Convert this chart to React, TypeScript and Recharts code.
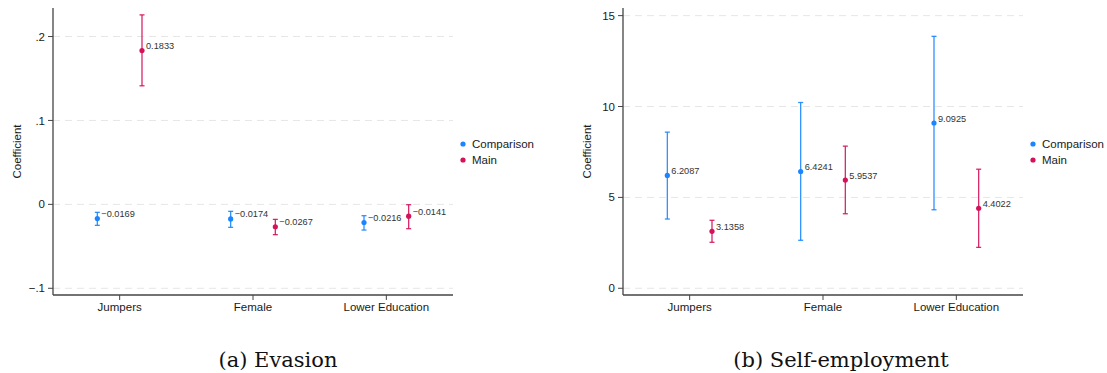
import React from 'react';
import {
  ScatterChart,
  Scatter,
  XAxis,
  YAxis,
  CartesianGrid,
  ErrorBar,
  Legend,
  Label,
} from 'recharts';

// ---- data -------------------------------------------------------------
const categories = ['Jumpers', 'Female', 'Lower Education'];
const seriesNames = ['Comparison', 'Main'];

// (a) Evasion
const evasionComparison = [-0.0169, -0.0174, -0.0216];
const evasionComparisonLow = [-0.025, -0.0274, -0.0306];
const evasionComparisonHigh = [-0.0095, -0.0083, -0.0135];
const evasionMain = [0.1833, -0.0267, -0.0141];
const evasionMainLow = [0.1413, -0.0361, -0.029];
const evasionMainHigh = [0.2258, -0.0179, -0.0004];
const evasionTicks = [-0.1, 0, 0.1, 0.2];

// (b) Self-employment
const selfEmpComparison = [6.2087, 6.4241, 9.0925];
const selfEmpComparisonLow = [3.81, 2.64, 4.32];
const selfEmpComparisonHigh = [8.59, 10.22, 13.86];
const selfEmpMain = [3.1358, 5.9537, 4.4022];
const selfEmpMainLow = [2.53, 4.1, 2.25];
const selfEmpMainHigh = [3.74, 7.82, 6.55];
const selfEmpTicks = [0, 5, 10, 15];

// ---- style ------------------------------------------------------------
const BLUE = '#1a85ff';
const RED = '#d41159';
const SANS = '"Liberation Sans", Arial, Helvetica, sans-serif';
const SERIF = '"DejaVu Serif", "Liberation Serif", serif';
const AXIS = '#444';
const DODGE = 0.1675; // horizontal offset of each series inside its category

const formatValue = (v: number) => (v < 0 ? '\u2212' : '') + Math.abs(v).toFixed(4);
const formatEvasionTick = (v: number) => {
  if (v === 0) return '0';
  const s = Math.abs(v).toFixed(1).replace(/^0/, '');
  return (v < 0 ? '\u2212' : '') + s;
};

type Row = { x: number; y: number; err: [number, number]; label: string };

const buildRows = (vals: number[], low: number[], high: number[], dodge: number): Row[] =>
  vals.map((v, i) => ({
    x: i + 0.5 + dodge,
    y: v,
    err: [v - low[i], high[i] - v],
    label: formatValue(v),
  }));

const makePoint = (color: string) => (props: any) => {
  const { cx, cy, payload } = props;
  if (cx == null || cy == null) return <g />;
  return (
    <g>
      <circle cx={cx} cy={cy} r={2.6} fill={color} />
      <text x={cx + 4} y={cy - 1.5} fontSize={9.2} fill="#333" fontFamily={SANS}>
        {payload.label}
      </text>
    </g>
  );
};

const LegendBox = () => (
  <div style={{ fontFamily: SANS, fontSize: 11.5, color: '#1a1a1a', lineHeight: '16px' }}>
    {seriesNames.map((name, i) => (
      <div key={name} style={{ display: 'flex', alignItems: 'center', height: 16, whiteSpace: 'nowrap' }}>
        <svg width={9} height={16} style={{ marginRight: 5 }}>
          <circle cx={5} cy={8} r={2.6} fill={i === 0 ? BLUE : RED} />
        </svg>
        <span>{name}</span>
      </div>
    ))}
  </div>
);

type PanelProps = {
  comparison: Row[];
  main: Row[];
  domain: [number, number];
  ticks: number[];
  tickFormatter: (v: number) => string;
  width: number;
  marginRight: number;
};

const CHART_H = 330;

const Panel = ({ comparison, main, domain, ticks, tickFormatter, width, marginRight }: PanelProps) => (
  <ScatterChart
    width={width}
    height={CHART_H}
    margin={{ top: 8, right: marginRight, bottom: 0, left: 0 }}
  >
    <CartesianGrid
      vertical={false}
      syncWithTicks
      stroke="#e6e6e6"
      strokeDasharray="7 5"
    />
    <XAxis
      type="number"
      dataKey="x"
      domain={[0, categories.length]}
      ticks={categories.map((_, i) => i + 0.5)}
      tickFormatter={(v: number) => categories[Math.floor(v)]}
      interval={0}
      height={35}
      tickSize={5}
      tickMargin={3}
      axisLine={{ stroke: AXIS, strokeWidth: 1.3 }}
      tickLine={{ stroke: AXIS }}
      tick={{ fill: '#1a1a1a', fontSize: 11.5, fontFamily: SANS }}
    />
    <YAxis
      type="number"
      dataKey="y"
      domain={domain}
      ticks={ticks}
      tickFormatter={tickFormatter}
      allowDataOverflow
      width={53}
      tickSize={5}
      tickMargin={3}
      axisLine={{ stroke: AXIS, strokeWidth: 1.3 }}
      tickLine={{ stroke: AXIS }}
      tick={{ fill: '#1a1a1a', fontSize: 11.5, fontFamily: SANS }}
    >
      <Label
        content={(p: any) => {
          const vb = p.viewBox || { y: 8, height: 287 };
          const cy = vb.y + vb.height / 2;
          return (
            <text
              x={16.5}
              y={cy}
              transform={`rotate(-90, 16.5, ${cy})`}
              textAnchor="middle"
              dominantBaseline="central"
              fontSize={11.5}
              fontFamily={SANS}
              fill="#1a1a1a"
            >
              Coefficient
            </text>
          );
        }}
      />
    </YAxis>
    <Legend
      layout="vertical"
      align="center"
      verticalAlign="middle"
      wrapperStyle={{ left: width - marginRight + 5, top: 136, width: 90, height: 34 }}
      content={() => <LegendBox />}
    />
    <Scatter
      name={seriesNames[0]}
      data={comparison}
      fill={BLUE}
      shape={makePoint(BLUE)}
      isAnimationActive={false}
    >
      <ErrorBar dataKey="err" direction="y" width={2.5} stroke={BLUE} strokeWidth={1.3} strokeOpacity={0.9} />
    </Scatter>
    <Scatter
      name={seriesNames[1]}
      data={main}
      fill={RED}
      shape={makePoint(RED)}
      isAnimationActive={false}
    >
      <ErrorBar dataKey="err" direction="y" width={2.5} stroke={RED} strokeWidth={1.3} strokeOpacity={0.9} />
    </Scatter>
  </ScatterChart>
);

const captionStyle: React.CSSProperties = {
  position: 'absolute',
  top: 350,
  fontFamily: SERIF,
  fontSize: 21,
  lineHeight: '21px',
  color: '#111',
  whiteSpace: 'nowrap',
  transform: 'translateX(-50%)',
};

export default function App() {
  return (
    <div
      style={{
        position: 'absolute',
        left: 0,
        top: 0,
        width: 1107,
        height: 373,
        background: '#fff',
        overflow: 'hidden',
      }}
    >
      <div style={{ position: 'absolute', left: 0, top: 0 }}>
        <Panel
          comparison={buildRows(evasionComparison, evasionComparisonLow, evasionComparisonHigh, -DODGE)}
          main={buildRows(evasionMain, evasionMainLow, evasionMainHigh, DODGE)}
          domain={[-0.108, 0.234]}
          ticks={evasionTicks}
          tickFormatter={formatEvasionTick}
          width={553}
          marginRight={100}
        />
      </div>
      <div style={{ position: 'absolute', left: 570, top: 0 }}>
        <Panel
          comparison={buildRows(selfEmpComparison, selfEmpComparisonLow, selfEmpComparisonHigh, -DODGE)}
          main={buildRows(selfEmpMain, selfEmpMainLow, selfEmpMainHigh, DODGE)}
          domain={[-0.37, 15.42]}
          ticks={selfEmpTicks}
          tickFormatter={(v: number) => String(v)}
          width={537}
          marginRight={84}
        />
      </div>
      <div style={{ ...captionStyle, left: 278 }}>(a) Evasion</div>
      <div style={{ ...captionStyle, left: 841 }}>(b) Self-employment</div>
    </div>
  );
}
